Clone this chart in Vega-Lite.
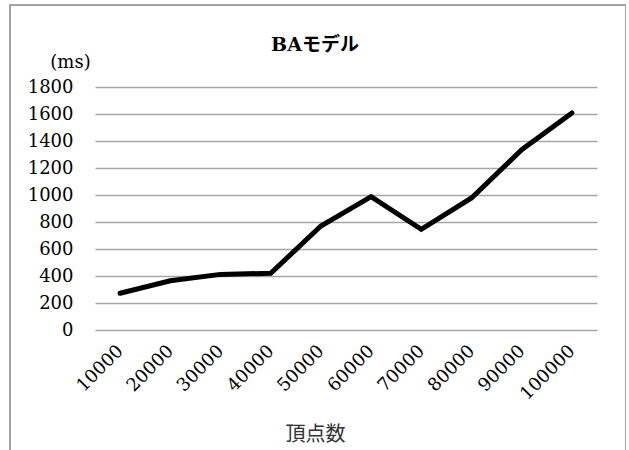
{
  "$schema": "https://vega.github.io/schema/vega-lite/v6.json",
  "autosize": {"type": "none"},
  "padding": {"left": 10, "top": 5, "right": 0, "bottom": 0},
  "width": 616,
  "height": 455,
  "background": "white",
  "title": {
    "text": "BAモデル",
    "frame": "group",
    "anchor": "middle",
    "orient": "top",
    "offset": -59,
    "baseline": "middle",
    "dx": -3,
    "font": "DejaVu Serif, Noto Sans CJK JP",
    "fontSize": 19,
    "fontWeight": "bold",
    "color": "#000000"
  },
  "config": {
    "view": {"stroke": "#a3a3a3", "strokeWidth": 2},
    "axis": {
      "labelFont": "DejaVu Serif",
      "labelFontSize": 18,
      "labelColor": "#000000",
      "domain": false,
      "ticks": false
    }
  },
  "data": {
    "values": [
      {"vertices": "10000", "ms": 272},
      {"vertices": "20000", "ms": 365},
      {"vertices": "30000", "ms": 412},
      {"vertices": "40000", "ms": 420},
      {"vertices": "50000", "ms": 770},
      {"vertices": "60000", "ms": 988},
      {"vertices": "70000", "ms": 746},
      {"vertices": "80000", "ms": 978},
      {"vertices": "90000", "ms": 1335},
      {"vertices": "100000", "ms": 1608}
    ]
  },
  "mark": {"type": "line", "color": "#000000", "strokeWidth": 5, "strokeCap": "round"},
  "encoding": {
    "x": {
      "field": "vertices",
      "type": "ordinal",
      "sort": null,
      "scale": {"type": "point", "padding": 0.5, "range": [85, 587]},
      "axis": {
        "title": "頂点数",
        "titleFont": "Noto Sans CJK JP",
        "titleFontSize": 20,
        "titleFontWeight": "normal",
        "titleColor": "#333333",
        "titleX": 305,
        "titleY": 104,
        "titleAlign": "center",
        "titleBaseline": "middle",
        "titleAnchor": null,
        "offset": -130,
        "grid": false,
        "labelAngle": -45,
        "labelAlign": "right",
        "labelBaseline": "middle",
        "labelPadding": 18
      }
    },
    "y": {
      "field": "ms",
      "type": "quantitative",
      "scale": {"domain": [0, 1800], "nice": false, "range": [325, 82]},
      "axis": {
        "title": "(ms)",
        "titleFont": "DejaVu Serif",
        "titleFontSize": 18,
        "titleFontWeight": "normal",
        "titleColor": "#000000",
        "titleAngle": 0,
        "titleX": -25,
        "titleY": 57,
        "titleAlign": "center",
        "titleBaseline": "middle",
        "offset": -85,
        "format": "d",
        "values": [0, 200, 400, 600, 800, 1000, 1200, 1400, 1600, 1800],
        "grid": true,
        "gridColor": "#a6a6a6",
        "gridWidth": 1.5,
        "labelPadding": 22
      }
    }
  }
}
